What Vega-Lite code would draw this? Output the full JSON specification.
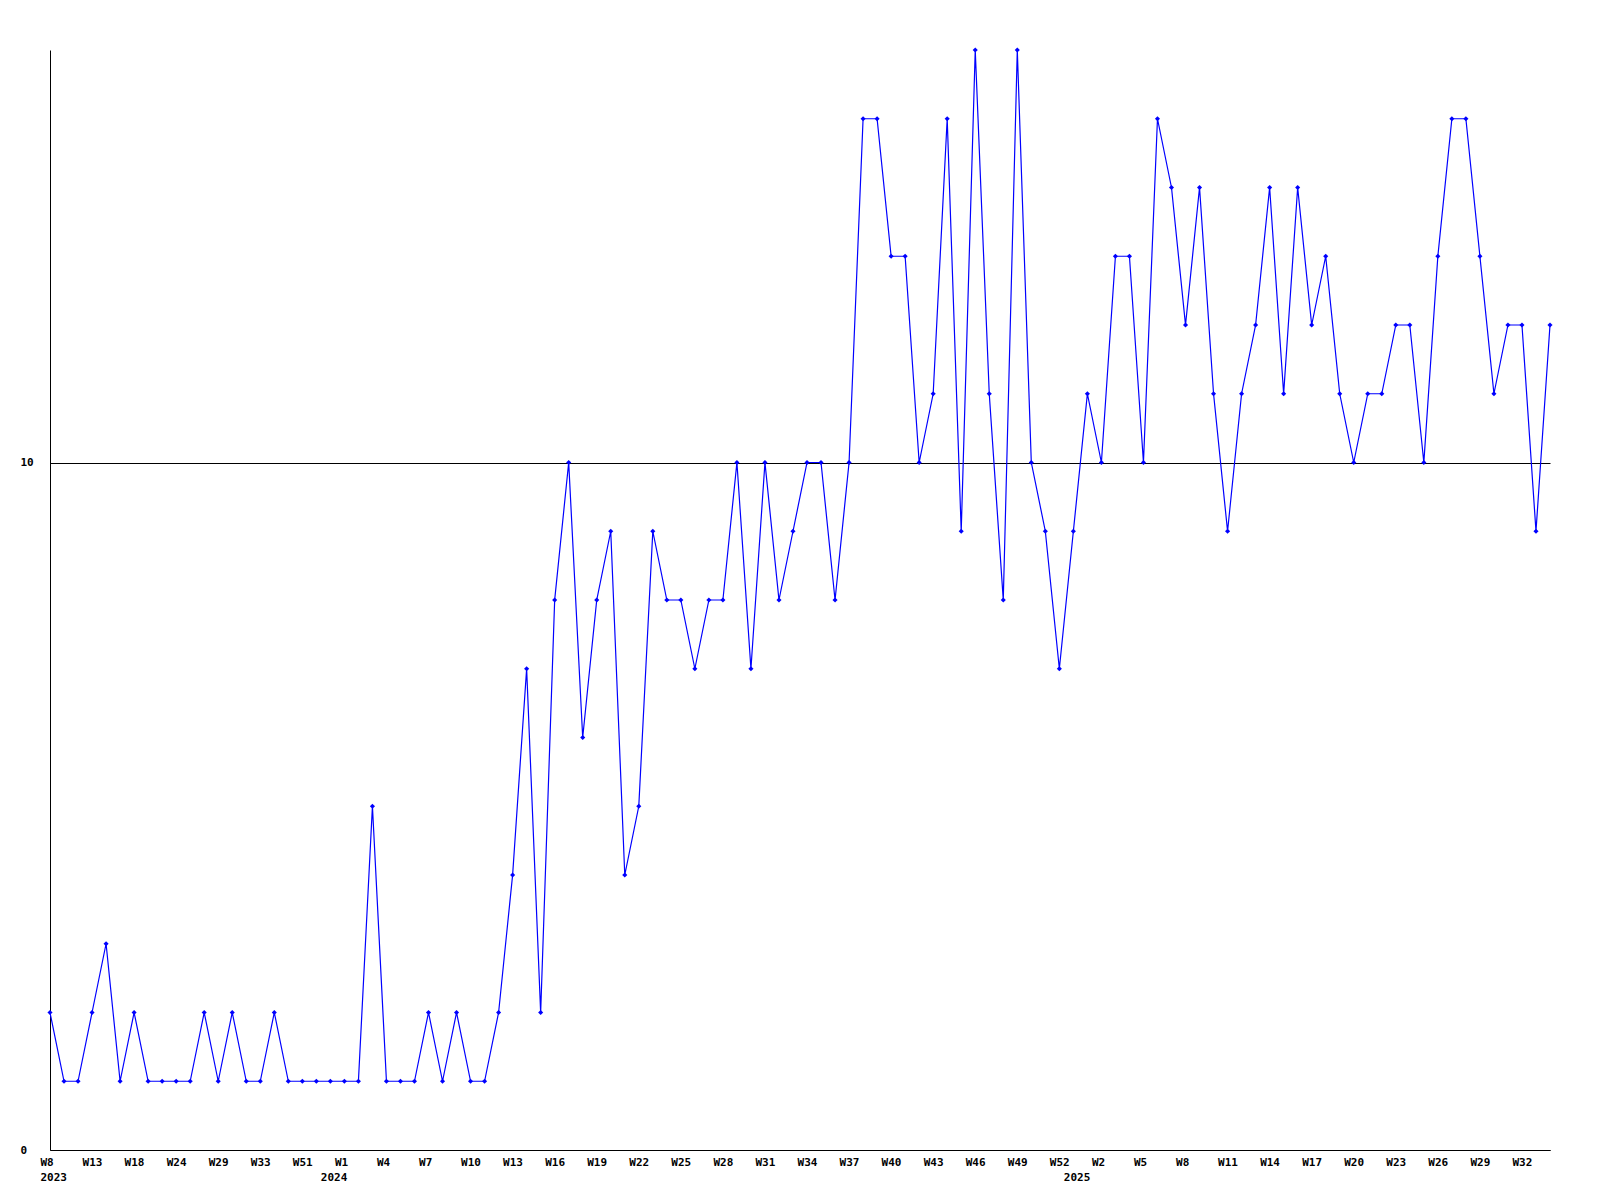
{
  "$schema": "https://vega.github.io/schema/vega-lite/v6.json",
  "width": 1500,
  "height": 1100,
  "autosize": {"type": "none"},
  "padding": {"left": 50, "top": 50, "right": 50, "bottom": 50},
  "background": "white",
  "config": {
    "view": {"stroke": null},
    "axis": {
      "labelFont": "DejaVu Sans Mono",
      "labelFontWeight": "bold",
      "labelFontSize": 11,
      "labelColor": "black",
      "domainColor": "black",
      "domainWidth": 1,
      "ticks": false,
      "tickSize": 0,
      "title": null
    }
  },
  "data": {
    "values": [
      {"w": "2023 W8", "v": 2}, {"w": "2023 W10", "v": 1}, {"w": "2023 W11", "v": 1}, {"w": "2023 W13", "v": 2},
      {"w": "2023 W14", "v": 3}, {"w": "2023 W16", "v": 1}, {"w": "2023 W18", "v": 2}, {"w": "2023 W20", "v": 1},
      {"w": "2023 W22", "v": 1}, {"w": "2023 W24", "v": 1}, {"w": "2023 W26", "v": 1}, {"w": "2023 W27", "v": 2},
      {"w": "2023 W29", "v": 1}, {"w": "2023 W30", "v": 2}, {"w": "2023 W31", "v": 1}, {"w": "2023 W33", "v": 1},
      {"w": "2023 W38", "v": 2}, {"w": "2023 W45", "v": 1}, {"w": "2023 W51", "v": 1}, {"w": "2023 W52", "v": 1},
      {"w": "2024 W0", "v": 1}, {"w": "2024 W1", "v": 1}, {"w": "2024 W2", "v": 1}, {"w": "2024 W3", "v": 5},
      {"w": "2024 W4", "v": 1}, {"w": "2024 W5", "v": 1}, {"w": "2024 W6", "v": 1}, {"w": "2024 W7", "v": 2},
      {"w": "2024 W8", "v": 1}, {"w": "2024 W9", "v": 2}, {"w": "2024 W10", "v": 1}, {"w": "2024 W11", "v": 1},
      {"w": "2024 W12", "v": 2}, {"w": "2024 W13", "v": 4}, {"w": "2024 W14", "v": 7}, {"w": "2024 W15", "v": 2},
      {"w": "2024 W16", "v": 8}, {"w": "2024 W17", "v": 10}, {"w": "2024 W18", "v": 6}, {"w": "2024 W19", "v": 8},
      {"w": "2024 W20", "v": 9}, {"w": "2024 W21", "v": 4}, {"w": "2024 W22", "v": 5}, {"w": "2024 W23", "v": 9},
      {"w": "2024 W24", "v": 8}, {"w": "2024 W25", "v": 8}, {"w": "2024 W26", "v": 7}, {"w": "2024 W27", "v": 8},
      {"w": "2024 W28", "v": 8}, {"w": "2024 W29", "v": 10}, {"w": "2024 W30", "v": 7}, {"w": "2024 W31", "v": 10},
      {"w": "2024 W32", "v": 8}, {"w": "2024 W33", "v": 9}, {"w": "2024 W34", "v": 10}, {"w": "2024 W35", "v": 10},
      {"w": "2024 W36", "v": 8}, {"w": "2024 W37", "v": 10}, {"w": "2024 W38", "v": 15}, {"w": "2024 W39", "v": 15},
      {"w": "2024 W40", "v": 13}, {"w": "2024 W41", "v": 13}, {"w": "2024 W42", "v": 10}, {"w": "2024 W43", "v": 11},
      {"w": "2024 W44", "v": 15}, {"w": "2024 W45", "v": 9}, {"w": "2024 W46", "v": 16}, {"w": "2024 W47", "v": 11},
      {"w": "2024 W48", "v": 8}, {"w": "2024 W49", "v": 16}, {"w": "2024 W50", "v": 10}, {"w": "2024 W51", "v": 9},
      {"w": "2024 W52", "v": 7},
      {"w": "2025 W0", "v": 9}, {"w": "2025 W1", "v": 11}, {"w": "2025 W2", "v": 10}, {"w": "2025 W3", "v": 13},
      {"w": "2025 W4", "v": 13}, {"w": "2025 W5", "v": 10}, {"w": "2025 W6", "v": 15}, {"w": "2025 W7", "v": 14},
      {"w": "2025 W8", "v": 12}, {"w": "2025 W9", "v": 14}, {"w": "2025 W10", "v": 11}, {"w": "2025 W11", "v": 9},
      {"w": "2025 W12", "v": 11}, {"w": "2025 W13", "v": 12}, {"w": "2025 W14", "v": 14}, {"w": "2025 W15", "v": 11},
      {"w": "2025 W16", "v": 14}, {"w": "2025 W17", "v": 12}, {"w": "2025 W18", "v": 13}, {"w": "2025 W19", "v": 11},
      {"w": "2025 W20", "v": 10}, {"w": "2025 W21", "v": 11}, {"w": "2025 W22", "v": 11}, {"w": "2025 W23", "v": 12},
      {"w": "2025 W24", "v": 12}, {"w": "2025 W25", "v": 10}, {"w": "2025 W26", "v": 13}, {"w": "2025 W27", "v": 15},
      {"w": "2025 W28", "v": 15}, {"w": "2025 W29", "v": 13}, {"w": "2025 W30", "v": 11}, {"w": "2025 W31", "v": 12},
      {"w": "2025 W32", "v": 12}, {"w": "2025 W33", "v": 9}, {"w": "2025 W34", "v": 12}
    ]
  },
  "encoding": {
    "x": {
      "field": "w",
      "type": "ordinal",
      "sort": null,
      "scale": {"type": "point", "padding": 0},
      "axis": {
        "values": ["2023 W8", "2023 W13", "2023 W18", "2023 W24", "2023 W29", "2023 W33", "2023 W51",
                   "2024 W0", "2024 W1", "2024 W4", "2024 W7", "2024 W10", "2024 W13", "2024 W16", "2024 W19",
                   "2024 W22", "2024 W25", "2024 W28", "2024 W31", "2024 W34", "2024 W37", "2024 W40", "2024 W43",
                   "2024 W46", "2024 W49", "2024 W52", "2025 W0", "2025 W2", "2025 W5", "2025 W8", "2025 W11",
                   "2025 W14", "2025 W17", "2025 W20", "2025 W23", "2025 W26", "2025 W29", "2025 W32"],
        "labelExpr": "split(datum.value, ' ')[1] == 'W0' ? [' ', split(datum.value, ' ')[0]] : (datum.value == '2023 W8' ? ['W8', '2023'] : split(datum.value, ' ')[1])",
        "labelAngle": 0,
        "labelAlign": "left",
        "labelBaseline": "top",
        "labelOffset": -10,
        "labelPadding": 6,
        "labelLineHeight": 15,
        "labelOverlap": false,
        "labelBound": false,
        "labelFlush": false,
        "grid": false
      }
    },
    "y": {
      "field": "v",
      "type": "quantitative",
      "scale": {"domain": [0, 16], "nice": false, "zero": true},
      "axis": {
        "values": [0, 10],
        "grid": true,
        "gridColor": "black",
        "gridWidth": 1,
        "gridOpacity": 1,
        "labelAlign": "left",
        "labelBaseline": "middle",
        "labelPadding": 30
      }
    }
  },
  "layer": [
    {"mark": {"type": "line", "color": "#0000ff", "strokeWidth": 1.2}},
    {"mark": {"type": "point", "shape": "diamond", "filled": true, "color": "#0000ff", "size": 26, "opacity": 1}}
  ]
}
